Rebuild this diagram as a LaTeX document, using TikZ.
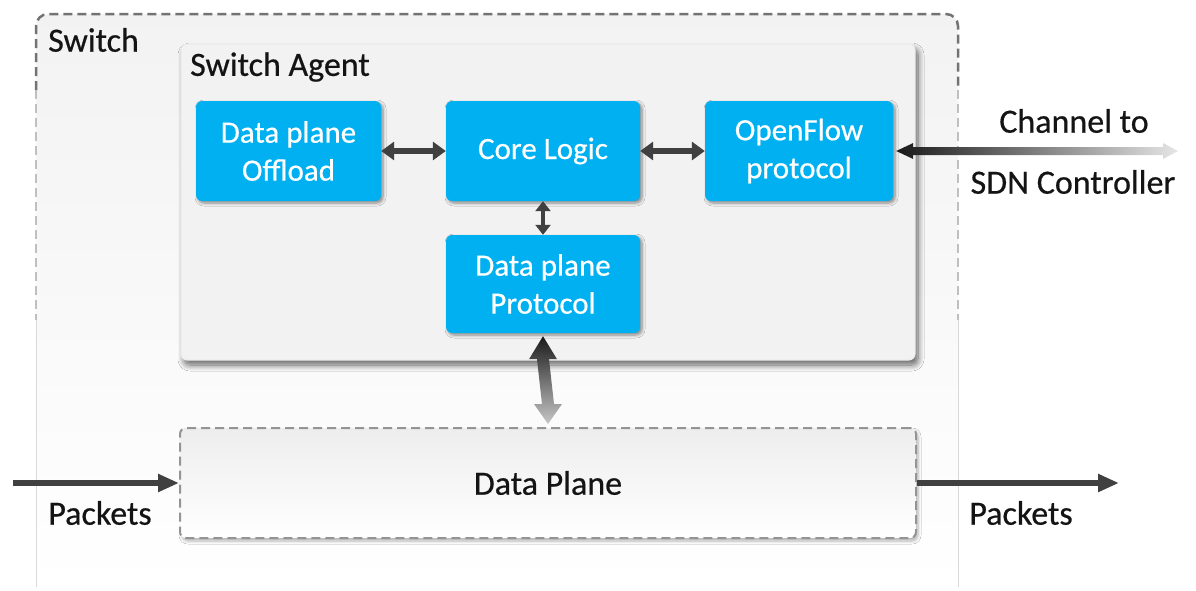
\documentclass[tikz,border=0pt]{standalone}
\usepackage{fontspec}
\setmainfont{Carlito}[FakeBold=0.5]
\usetikzlibrary{arrows.meta,shadows,shadows.blur,calc}
\definecolor{boxblue}{RGB}{0,176,240}
\definecolor{arrowgray}{RGB}{64,64,64}
\definecolor{panelgray}{RGB}{242,242,242}
\begin{document}
\begin{tikzpicture}[x=1pt,y=-1pt,
  lbl/.style={text=black!92, font=\fontsize{34}{40}\selectfont, inner sep=0pt},
  block/.style={fill=boxblue, rounded corners=6pt, text=white, align=center,
    font=\fontsize{31}{38}\selectfont, inner sep=0pt,
    blur shadow={shadow xshift=2pt, shadow yshift=-2pt, shadow opacity=45,
      shadow blur radius=3pt, shadow blur steps=6}},
  agentbox/.style={fill=panelgray, draw=black!8, line width=1pt, rounded corners=6pt,
    blur shadow={shadow xshift=3pt, shadow yshift=-5pt, shadow opacity=60,
      shadow blur radius=6pt, shadow blur steps=10}},
  planebox/.style={draw=black!42, dashed, dash pattern=on 9pt off 5pt, line width=2pt,
    rounded corners=6pt, top color=black!7, bottom color=white,
    blur shadow={shadow xshift=2pt, shadow yshift=-3pt, shadow opacity=30,
      shadow blur radius=3pt, shadow blur steps=6}},
  swtop/.style={draw=black!55, dash pattern=on 9pt off 5pt, line width=2.5pt, rounded corners=12pt},
  swside/.style={draw=black!25, dash pattern=on 9pt off 5pt, line width=1.5pt},
  swlow/.style={draw=black!15, line width=1pt},
  link/.style={draw=arrowgray, line width=6pt,
    {Triangle[length=13pt,width=18pt]}-{Triangle[length=13pt,width=18pt]}},
  vlink/.style={draw=arrowgray, line width=4.5pt,
    {Triangle[length=10pt,width=15pt]}-{Triangle[length=10pt,width=15pt]}},
  pkt/.style={draw=arrowgray, line width=6pt, -{Triangle[length=21pt,width=17pt]}},
]
\useasboundingbox (0,0) rectangle (1196,590);

% switch enclosure
\shade[top color=black!5, bottom color=white, rounded corners=12pt]
  (36,589) -- (36,14) -- (958,14) -- (958,589) -- cycle;
\draw[swtop] (36,90) -- (36,14) -- (958,14) -- (958,90);
\draw[swside] (36,90) -- (36,320);
\draw[swside] (958,90) -- (958,320);
\draw[swlow] (36,320) -- (36,587);
\draw[swlow] (958,320) -- (958,587);
\node[lbl, anchor=west] (sw) at (48,40) {Switch};

% switch agent panel
\node[agentbox, minimum width=734pt, minimum height=316pt] (agent) at (548,202) {};
\node[lbl, anchor=west] (agentlbl) at (190,67) {Switch Agent};

% agent components
\node[block, minimum width=185pt, minimum height=100pt] (off) at (288.5,151) {Data plane\\Offload};
\node[block, minimum width=194pt, minimum height=100pt] (core) at (543,151) {Core Logic};
\node[block, minimum width=188pt, minimum height=100pt] (of) at (799,151) {OpenFlow\\protocol};
\node[block, minimum width=194pt, minimum height=98pt] (dpp) at (543,284) {Data plane\\Protocol};

\draw[link] (off.east) -- (core.west);
\draw[link] (core.east) -- (of.west);
\draw[vlink] (core.south) -- (dpp.north);

% data plane
\node[planebox, minimum width=736pt, minimum height=110pt] (dp) at (548,483) {};
\node[lbl] (dplbl) at (dp.center) {Data Plane};

% agent <-> data plane link, fading downwards
\shade[top color=black!90, middle color=black!72, bottom color=black!22]
  ($(dpp.south)+(0,3)$) -- ++(14,23) -- ++(-8,0)
  -- ($(dp.north)+(6,-23)$) -- ++(8,0)
  -- ($(dp.north)+(0,-3)$) -- ++(-14,-20) -- ++(8,0)
  -- ($(dpp.south)+(-6,26)$) -- ++(-8,0) -- cycle;

% controller channel, fading to the right
\coordinate (sdn) at (1178,151);
\shade[left color=black!90, middle color=black!55, right color=black!10]
  ($(of.east)+(3,0)$) -- ++(17,-8) -- ++(0,4)
  -- ($(sdn)+(-15,-4)$) -- ++(0,-4)
  -- (sdn) -- ++(-15,8) -- ++(0,-4)
  -- ($(of.east)+(20,4)$) -- ++(0,4) -- cycle;
\node[lbl] (ch1) at (1074,121) {Channel to};
\node[lbl] (ch2) at (1073,182) {SDN Controller};

% packet flow
\coordinate (pin) at (13,483);
\coordinate (pout) at (1119,483);
\draw[pkt] (pin) -- (dp.west);
\draw[pkt] (dp.east) -- (pout);
\node[lbl] (pk1) at (100,513) {Packets};
\node[lbl] (pk2) at (1021,513) {Packets};
\end{tikzpicture}
\end{document}
